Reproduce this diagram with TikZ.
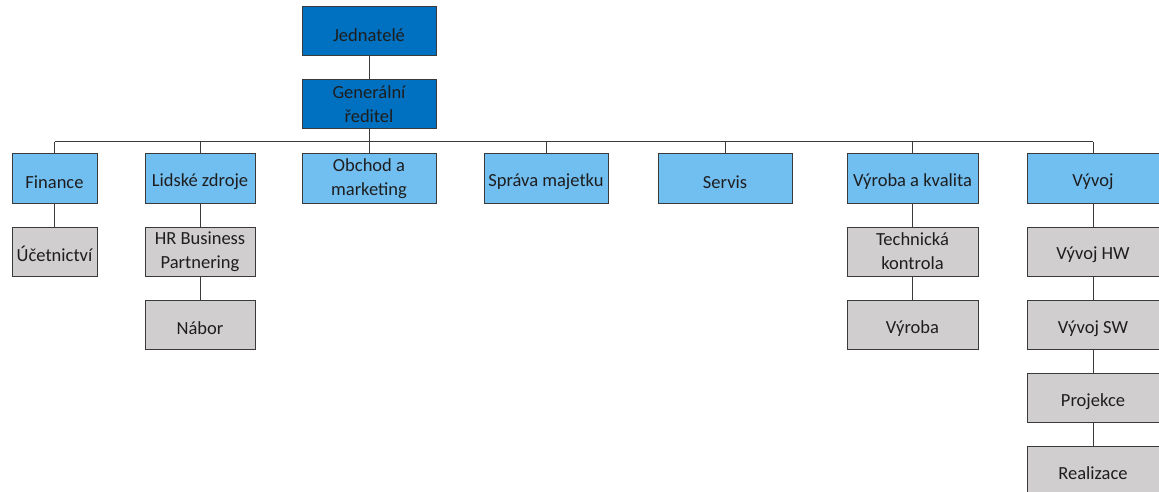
\documentclass[tikz,border=0pt]{standalone}
\usepackage{fontspec}
\setmainfont{Carlito}
\definecolor{darkblue}{HTML}{0070C0}
\definecolor{lightblue}{HTML}{71BEF1}
\definecolor{boxgray}{HTML}{D0CECE}
\definecolor{edge}{HTML}{3A3A3A}
\definecolor{txt}{HTML}{1E1E1E}
\begin{document}
\begin{tikzpicture}[x=1pt,y=-1pt,
  box/.style={draw=edge,line width=1pt,inner sep=0pt,align=center,text=txt,
    font=\fontsize{18.5}{24}\selectfont,
    execute at begin node={\rule{0pt}{19.5pt}}},
  top/.style={box,fill=darkblue},
  dept/.style={box,fill=lightblue},
  sub/.style={box,fill=boxgray},
  conn/.style={draw=edge,line width=1pt}]
\useasboundingbox (0,0) rectangle (1159,492);
% top
\node[top,minimum width=134pt,minimum height=49pt] (jed) at (369,31.5) {Jednatelé};
\node[top,minimum width=134pt,minimum height=49pt] (gen) at (369,104.5) {Generální\\ředitel};
% departments
\node[dept,minimum width=85pt,minimum height=49pt] (fin) at (54.5,178.5) {Finance};
\node[dept,minimum width=110pt,minimum height=49pt] (lid) at (200,178.5) {Lidské zdroje};
\node[dept,minimum width=134pt,minimum height=49pt] (obc) at (369,178.5) {Obchod a\\marketing};
\node[dept,minimum width=124pt,minimum height=49pt] (spr) at (546,178.5) {Správa majetku};
\node[dept,minimum width=134pt,minimum height=49pt] (ser) at (725,178.5) {Servis};
\node[dept,minimum width=131pt,minimum height=49pt] (vyk) at (912.5,178.5) {Výroba a kvalita};
\node[dept,minimum width=132pt,minimum height=49pt] (vyv) at (1093,178.5) {Vývoj};
% sub units
\node[sub,minimum width=85pt,minimum height=49pt] (uce) at (54.5,251.5) {Účetnictví};
\node[sub,minimum width=110pt,minimum height=49pt] (hrb) at (200,251.5) {HR Business\\Partnering};
\node[sub,minimum width=110pt,minimum height=49pt] (nab) at (200,325) {Nábor};
\node[sub,minimum width=131pt,minimum height=49pt] (tec) at (912.5,251.5) {Technická\\kontrola};
\node[sub,minimum width=131pt,minimum height=49pt] (vyr) at (912.5,325) {Výroba};
\node[sub,minimum width=132pt,minimum height=49pt] (vhw) at (1093,251.5) {Vývoj HW};
\node[sub,minimum width=132pt,minimum height=49pt] (vsw) at (1093,325) {Vývoj SW};
\node[sub,minimum width=132pt,minimum height=49pt] (pro) at (1093,398) {Projekce};
\node[sub,minimum width=132pt,minimum height=47pt] (rea) at (1093,470) {Realizace};
% connectors
\coordinate (bus) at (369,142);
\draw[conn] (jed.south) -- (gen.north);
\draw[conn] (gen.south) -- (bus);
\draw[conn] (fin.north |- bus) -- (vyv.north |- bus);
\foreach \n in {fin,lid,obc,spr,ser,vyk,vyv}
  \draw[conn] (\n.north |- bus) -- (\n.north);
\draw[conn] (fin.south) -- (uce.north);
\draw[conn] (lid.south) -- (hrb.north);
\draw[conn] (hrb.south) -- (nab.north);
\draw[conn] (vyk.south) -- (tec.north);
\draw[conn] (tec.south) -- (vyr.north);
\draw[conn] (vyv.south) -- (vhw.north);
\draw[conn] (vhw.south) -- (vsw.north);
\draw[conn] (vsw.south) -- (pro.north);
\draw[conn] (pro.south) -- (rea.north);
\end{tikzpicture}
\end{document}
